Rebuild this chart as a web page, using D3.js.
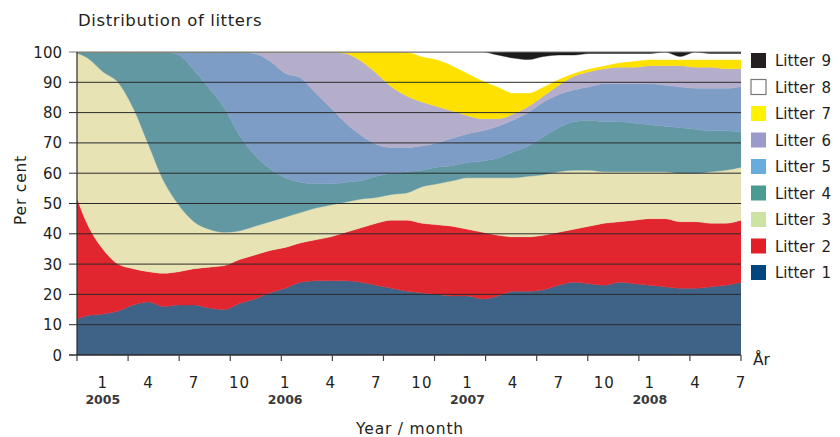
<!DOCTYPE html>
<html>
<head>
<meta charset="utf-8">
<script src="https://cdn.jsdelivr.net/npm/d3@7/dist/d3.min.js"></script>
<style>
body{margin:0;background:#fff;}
svg text{font-family:"DejaVu Sans",sans-serif;fill:#231f20;}
</style>
</head>
<body>
<div id="chart"></div>
<script>
// monthly shares (per cent), Nov 2004 - Jul 2008
var months = ['2004-11','2004-12',
	'2005-01','2005-02','2005-03','2005-04','2005-05','2005-06','2005-07','2005-08','2005-09','2005-10','2005-11','2005-12',
	'2006-01','2006-02','2006-03','2006-04','2006-05','2006-06','2006-07','2006-08','2006-09','2006-10','2006-11','2006-12',
	'2007-01','2007-02','2007-03','2007-04','2007-05','2007-06','2007-07','2007-08','2007-09','2007-10','2007-11','2007-12',
	'2008-01','2008-02','2008-03','2008-04','2008-05','2008-06','2008-07'];

var litter1 = [11,13,13.5,14.5,16.5,17.5,16,16.5,16.5,15.5,15,17,18.5,20.5,22,24,24.5,24.5,24.5,24,23,22,21,20.5,20,19.5,19.5,18.5,19.5,21,21,21.5,23,24,23.5,23,24,23.5,23,22.5,22,22,22.5,23,24];
var litter2 = [45,30,21.5,15.5,12,10,11,11,12,13.5,14.5,14.5,14.5,14,13.5,13,13.5,14.5,16,18,20.5,22.5,23.5,23,23,23,22,22,20,18,18,18,17.5,17.5,19,20.5,20,21,22,22.5,22,22,21,20.5,20.5];
var litter3 = [44,55,58.5,60,53,42,30.5,22,15.5,12.5,11,9.5,9.5,9.5,10,10,10.5,10.5,10,9.5,8.5,8.5,9,12,13.5,15,17,18,19,19.5,20,20,20,19.5,18.5,17,16.5,16,15.5,15.5,16,16,17,17.5,17.5];
var litter4 = [0,2,6.5,10,18.5,30.5,42.5,49.5,50,46.5,41,31.5,23.5,17.5,13,10,8,7,6.5,6,7,7,7,5.5,5.5,5,5,5.5,6.5,8.5,10,12.5,14.5,16,16.5,16.5,16.5,16,15.5,15,15,14.5,13.5,13,11.5];
var litter5 = [0,0,0,0,0,0,0,1,6,12,18.5,27.5,33.5,35.5,34.5,34.5,30,25,19.5,15,10.5,8.5,8,8,8,9,9.5,10,10.5,10.5,11,11.5,11,10.5,11,12.5,12.5,13,13.5,13.5,13.5,13.5,14,14,15];
var litter6 = [0,0,0,0,0,0,0,0,0,0,0,0,0.5,3,7,8.5,13.5,18.5,23,24.5,23.5,20,17,14.5,12,9,6,4,2.5,2,2,2,3,4.5,5,5,5.5,5.5,6,6.5,7,7,7,6.5,6];
var litter7 = [0,0,0,0,0,0,0,0,0,0,0,0,0,0,0,0,0,0,0.5,3,7,11.5,14.5,15,15.5,15,14,12.5,10.5,7,4.5,3,2,1,1,1,1.5,2,2,2,2,2.5,2.5,3,3];
var litter8 = [0,0,0,0,0,0,0,0,0,0,0,0,0,0,0,0,0,0,0,0,0,0,0,1.5,2.5,4.5,7,9.5,10.5,11.5,11,10,8,6,5,4,3,2.5,2,2.5,1,2.5,2,2,2];
var litter9 = [0,0,0,0,0,0,0,0,0,0,0,0,0,0,0,0,0,0,0,0,0,0,0,0,0,0,0,0,1,2,2.5,1.5,1,1,0.5,0.5,0.5,0.5,0.5,0,1.5,0,0.5,0.5,0.5];

var seriesNames = ['Litter 1','Litter 2','Litter 3','Litter 4','Litter 5','Litter 6','Litter 7','Litter 8','Litter 9'];
var areaColors = ['#3f6387','#e1262f','#e7e3b5','#6298a2','#7e9dc6','#b4aecb','#ffe100','#ffffff','#1c1a1b'];
var legendColors = ['#03457f','#e21e26','#cde3a1','#4a9b91','#68acdd','#9a9acb','#fff200','#ffffff','#231f20'];

var monthTicks = ['2005-01','2005-04','2005-07','2005-10','2006-01','2006-04','2006-07','2006-10',
	'2007-01','2007-04','2007-07','2007-10','2008-01','2008-04','2008-07'];
var yearLabels = ['2005','2006','2007','2008'];
var yTicks = [0,10,20,30,40,50,60,70,80,90,100];

function monthIndex(s){
	var p = s.split('-');
	return (+p[0] - 2005) * 12 + (+p[1] - 1);
}

var width = 840, height = 437;
var plotLeft = 77, plotRight = 741, plotTop = 52, plotBottom = 355;

var all = [litter1,litter2,litter3,litter4,litter5,litter6,litter7,litter8,litter9];
var table = months.map(function(m, i){
	var row = {m: monthIndex(m)};
	seriesNames.forEach(function(k, j){ row[k] = all[j][i]; });
	return row;
});

var x = d3.scaleLinear().domain([-1.7, 42]).range([plotLeft, plotRight]);
var y = d3.scaleLinear().domain([0, 100]).range([plotBottom, plotTop]);

var svg = d3.select('#chart').append('svg')
	.attr('width', width)
	.attr('height', height);

svg.append('clipPath').attr('id', 'plot')
	.append('rect')
	.attr('x', plotLeft).attr('y', plotTop)
	.attr('width', plotRight - plotLeft).attr('height', plotBottom - plotTop);

var stack = d3.stack().keys(seriesNames);
var layers = stack(table);

var area = d3.area()
	.x(function(d){ return x(d.data.m); })
	.y0(function(d){ return y(d[0]); })
	.y1(function(d){ return y(d[1]); })
	.curve(d3.curveMonotoneX);

svg.append('g')
	.attr('clip-path', 'url(#plot)')
	.selectAll('path')
	.data(layers)
	.enter()
	.append('path')
	.attr('d', area)
	.attr('fill', function(d, i){ return areaColors[i]; })
	.attr('stroke', function(d, i){ return areaColors[i]; })
	.attr('stroke-width', 0.4);

// grid lines
svg.append('g').selectAll('line')
	.data(yTicks.filter(function(v){ return v > 0; }))
	.enter()
	.append('line')
	.attr('x1', plotLeft - 8).attr('x2', plotRight)
	.attr('y1', function(d){ return y(d); })
	.attr('y2', function(d){ return y(d); })
	.attr('stroke', function(d){ return d == 100 ? '#7a7a7a' : '#2b2b2b'; })
	.attr('stroke-width', function(d){ return d == 100 ? 1.2 : 1; });

// axes
svg.append('line')
	.attr('x1', plotLeft).attr('x2', plotLeft)
	.attr('y1', plotTop).attr('y2', plotBottom)
	.attr('stroke', '#2b2b2b').attr('stroke-width', 1.2);
svg.append('line')
	.attr('x1', plotLeft - 8).attr('x2', plotRight)
	.attr('y1', plotBottom).attr('y2', plotBottom)
	.attr('stroke', '#2b2b2b').attr('stroke-width', 1.5);

svg.append('g').selectAll('text')
	.data(yTicks)
	.enter()
	.append('text')
	.attr('x', 62)
	.attr('y', function(d){ return y(d) + 5.5; })
	.attr('text-anchor', 'end')
	.style('font-size', '15px')
	.text(function(d){ return d; });

// bottom tick marks, evenly spread over the plot width
var tickPos = d3.range(14).map(function(i){ return plotLeft + i * (plotRight - plotLeft) / 13; });
svg.append('g').selectAll('line')
	.data(tickPos)
	.enter()
	.append('line')
	.attr('x1', function(d){ return d; })
	.attr('x2', function(d){ return d; })
	.attr('y1', plotBottom).attr('y2', plotBottom + 6)
	.attr('stroke', '#444').attr('stroke-width', 1.2);

svg.append('g').selectAll('text')
	.data(monthTicks)
	.enter()
	.append('text')
	.attr('x', function(d){ return x(monthIndex(d)); })
	.attr('y', 388)
	.attr('text-anchor', 'middle')
	.style('font-size', '15px')
	.style('letter-spacing', '1px')
	.text(function(d){ return +d.split('-')[1]; });

svg.append('g').selectAll('text')
	.data(yearLabels)
	.enter()
	.append('text')
	.attr('x', function(d){ return x(monthIndex(d + '-01')); })
	.attr('y', 404)
	.attr('text-anchor', 'middle')
	.style('font-size', '12.5px')
	.style('font-weight', 'bold')
	.style('fill', '#3a3a3a')
	.text(function(d){ return d; });

svg.append('text')
	.attr('x', 78).attr('y', 26)
	.style('font-size', '16.5px')
	.style('letter-spacing', '0.6px')
	.text('Distribution of litters');

svg.append('text')
	.attr('transform', 'translate(26,190) rotate(-90)')
	.attr('text-anchor', 'middle')
	.style('font-size', '15.5px')
	.style('letter-spacing', '0.8px')
	.text('Per cent');

svg.append('text')
	.attr('x', 410).attr('y', 434)
	.attr('text-anchor', 'middle')
	.style('font-size', '15.5px')
	.style('letter-spacing', '0.8px')
	.text('Year / month');

svg.append('text')
	.attr('x', 753).attr('y', 365)
	.style('font-size', '15.5px')
	.text('År');

// legend, Litter 9 at the top
var legendRectSize = 15;
var legendSpacing = 26.5;
var legend = svg.selectAll('.legend')
	.data(seriesNames.slice().reverse())
	.enter()
	.append('g')
	.attr('class', 'legend')
	.attr('transform', function(d, i){
		return 'translate(751,' + (53 + i * legendSpacing) + ')';
	});

legend.append('rect')
	.attr('width', legendRectSize)
	.attr('height', legendRectSize)
	.attr('fill', function(d){ return legendColors[seriesNames.indexOf(d)]; })
	.attr('stroke', function(d){ return d == 'Litter 8' ? '#777' : 'none'; })
	.attr('stroke-width', 1.2);

legend.append('text')
	.attr('x', 24)
	.attr('y', 13)
	.style('font-size', '15px')
	.style('word-spacing', '2px')
	.text(function(d){ return d; });
</script>
</body>
</html>
